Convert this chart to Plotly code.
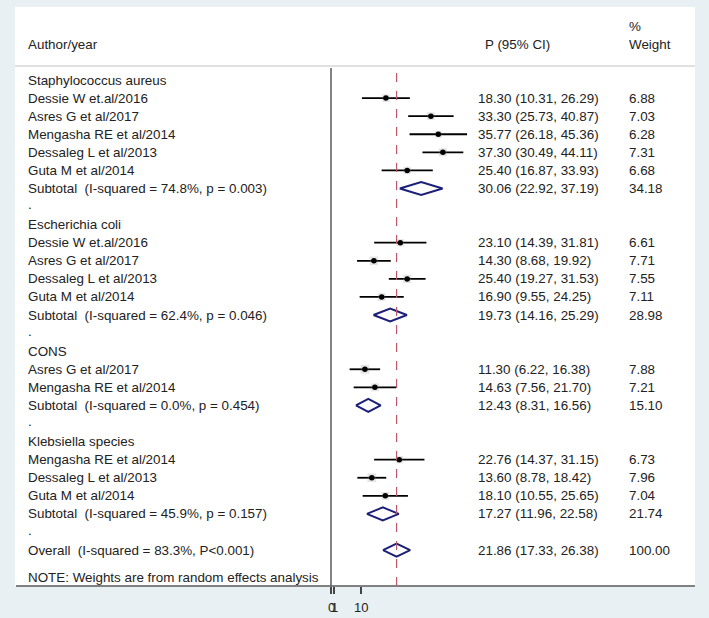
import plotly.graph_objects as go

# ---------------- data ----------------
groups = ["Staphylococcus aureus", "Escherichia coli", "CONS", "Klebsiella species"]

study_group = [0, 0, 0, 0, 0, 1, 1, 1, 1, 2, 2, 3, 3, 3]
study_labels = [
    "Dessie W et.al/2016", "Asres G et al/2017", "Mengasha RE et al/2014",
    "Dessaleg L et al/2013", "Guta M et al/2014",
    "Dessie W et.al/2016", "Asres G et al/2017", "Dessaleg L et al/2013", "Guta M et al/2014",
    "Asres G et al/2017", "Mengasha RE et al/2014",
    "Mengasha RE et al/2014", "Dessaleg L et al/2013", "Guta M et al/2014",
]
study_est = [18.30, 33.30, 35.77, 37.30, 25.40, 23.10, 14.30, 25.40, 16.90, 11.30, 14.63, 22.76, 13.60, 18.10]
study_lo = [10.31, 25.73, 26.18, 30.49, 16.87, 14.39, 8.68, 19.27, 9.55, 6.22, 7.56, 14.37, 8.78, 10.55]
study_hi = [26.29, 40.87, 45.36, 44.11, 33.93, 31.81, 19.92, 31.53, 24.25, 16.38, 21.70, 31.15, 18.42, 25.65]
study_wt = [6.88, 7.03, 6.28, 7.31, 6.68, 6.61, 7.71, 7.55, 7.11, 7.88, 7.21, 6.73, 7.96, 7.04]

sub_labels = [
    "Subtotal  (I-squared = 74.8%, p = 0.003)",
    "Subtotal  (I-squared = 62.4%, p = 0.046)",
    "Subtotal  (I-squared = 0.0%, p = 0.454)",
    "Subtotal  (I-squared = 45.9%, p = 0.157)",
]
sub_est = [30.06, 19.73, 12.43, 17.27]
sub_lo = [22.92, 14.16, 8.31, 11.96]
sub_hi = [37.19, 25.29, 16.56, 22.58]
sub_wt = [34.18, 28.98, 15.10, 21.74]

overall_label = "Overall  (I-squared = 83.3%, P<0.001)"
overall_est = 21.86
overall_lo = 17.33
overall_hi = 26.38
overall_wt = 100.00

note_text = "NOTE: Weights are from random effects analysis"
tick_vals = [0, 1, 10]
tick_text = ["0", "1", "10"]

# ---------------- layout constants (pixels) ----------------
W, H = 709, 618
ROW0_PX = 80.0
ROW_H = 18.08
AX_BOTTOM_PX = 586.0
ZERO_PX = 331.0
PX_PER_UNIT = 3.0
PANEL_L, PANEL_R, PANEL_T = 15, 695, 7
HEAD_LINE_PX = 66
LABEL_X = 26
EST_X = 476
WT_X = 627
FONT = "Liberation Sans, Arial, sans-serif"
TXT = "#222222"
NAVY = "#1b1f78"
FS = 13.4


def px2paper_y(p):
    return 1 - p / H


def px2paper_x(p):
    return p / W


rows = []
for g in range(len(groups)):
    rows.append(("group", g))
    for i, sg in enumerate(study_group):
        if sg == g:
            rows.append(("study", i))
    rows.append(("sub", g))
    rows.append(("blank", g))
rows.append(("overall", 0))

fig = go.Figure()
ann = []
shapes = []

# panel
shapes.append(dict(type="rect", xref="paper", yref="paper",
                   x0=px2paper_x(PANEL_L), x1=px2paper_x(PANEL_R),
                   y0=px2paper_y(AX_BOTTOM_PX), y1=px2paper_y(PANEL_T),
                   fillcolor="white", line=dict(width=0), layer="below"))
shapes.append(dict(type="line", xref="paper", yref="paper",
                   x0=px2paper_x(PANEL_L + 1), x1=px2paper_x(PANEL_R), y0=px2paper_y(AX_BOTTOM_PX),
                   y1=px2paper_y(AX_BOTTOM_PX), line=dict(color="#5a5a5a", width=1.5)))
shapes.append(dict(type="line", xref="paper", yref="paper",
                   x0=px2paper_x(PANEL_L), x1=px2paper_x(PANEL_R), y0=px2paper_y(HEAD_LINE_PX),
                   y1=px2paper_y(HEAD_LINE_PX), line=dict(color="#d6d6d6", width=1.5)))
shapes.append(dict(type="line", xref="x", yref="paper",
                   x0=0, x1=0, y0=px2paper_y(AX_BOTTOM_PX), y1=px2paper_y(HEAD_LINE_PX + 2),
                   line=dict(color="#5a5a5a", width=1.5)))
shapes.append(dict(type="line", xref="x", yref="paper",
                   x0=overall_est, x1=overall_est, y0=px2paper_y(AX_BOTTOM_PX), y1=px2paper_y(HEAD_LINE_PX + 5),
                   line=dict(color="#b85a6a", width=1.2, dash="dash")))


def label(y, text, x_px):
    ann.append(dict(x=px2paper_x(x_px), y=y, xref="paper", yref="y", text=text, showarrow=False,
                    xanchor="left", yanchor="middle", font=dict(family=FONT, size=FS, color=TXT)))


def fmt_ci(e, lo, hi):
    return f"{e:.2f} ({lo:.2f}, {hi:.2f})"


for txt, xp, yp in [("Author/year", LABEL_X, 44), ("P (95% CI)", 483, 44), ("%", WT_X, 26), ("Weight", WT_X, 44)]:
    ann.append(dict(x=px2paper_x(xp), y=px2paper_y(yp), xref="paper", yref="paper", text=txt, showarrow=False,
                    xanchor="left", yanchor="middle", font=dict(family=FONT, size=FS, color=TXT)))

# axis tick labels (placed with the x axis scale)
for tv, tt in zip(tick_vals, tick_text):
    ann.append(dict(x=tv, y=px2paper_y(607), xref="x", yref="paper", text=tt, showarrow=False,
                    xanchor="center", yanchor="middle", font=dict(family=FONT, size=13, color=TXT)))

ci_x, ci_y = [], []
pt_x, pt_y, box_size = [], [], []
for r, (kind, idx) in enumerate(rows):
    if kind == "group":
        label(r, groups[idx], LABEL_X)
    elif kind == "study":
        label(r, study_labels[idx], LABEL_X)
        label(r, fmt_ci(study_est[idx], study_lo[idx], study_hi[idx]), EST_X)
        label(r, f"{study_wt[idx]:.2f}", WT_X)
        ci_x += [study_lo[idx], study_hi[idx], None]
        ci_y += [r, r, None]
        pt_x.append(study_est[idx])
        pt_y.append(r)
        box_size.append(study_wt[idx] * 1.1)
    elif kind == "sub":
        label(r, sub_labels[idx], LABEL_X)
        label(r, fmt_ci(sub_est[idx], sub_lo[idx], sub_hi[idx]), EST_X)
        label(r, f"{sub_wt[idx]:.2f}", WT_X)
        fig.add_trace(go.Scatter(
            x=[sub_lo[idx], sub_est[idx], sub_hi[idx], sub_est[idx], sub_lo[idx]],
            y=[r, r - 0.36, r, r + 0.36, r], mode="lines", fill="toself", fillcolor="white",
            line=dict(color=NAVY, width=2), hoverinfo="skip", showlegend=False))
    elif kind == "blank":
        label(r - 0.1, ".", LABEL_X)
    elif kind == "overall":
        label(r, overall_label, LABEL_X)
        label(r, fmt_ci(overall_est, overall_lo, overall_hi), EST_X)
        label(r, f"{overall_wt:.2f}", WT_X)
        fig.add_trace(go.Scatter(
            x=[overall_lo, overall_est, overall_hi, overall_est, overall_lo],
            y=[r, r - 0.36, r, r + 0.36, r], mode="lines", fill="toself", fillcolor="white",
            line=dict(color=NAVY, width=2), hoverinfo="skip", showlegend=False))
        label(r + 1.5, note_text, LABEL_X)

fig.add_trace(go.Scatter(x=ci_x, y=ci_y, mode="lines", line=dict(color="black", width=1.8),
                         hoverinfo="skip", showlegend=False))
fig.add_trace(go.Scatter(x=pt_x, y=pt_y, mode="markers",
                         marker=dict(symbol="square", size=box_size, color="rgba(150,150,150,0.35)",
                                     line=dict(width=0)),
                         hoverinfo="skip", showlegend=False))
fig.add_trace(go.Scatter(x=pt_x, y=pt_y, mode="markers",
                         marker=dict(symbol="circle", size=5.5, color="black"),
                         hoverinfo="skip", showlegend=False))

y_top = -ROW0_PX / ROW_H
y_bot = (AX_BOTTOM_PX - ROW0_PX) / ROW_H

fig.update_layout(
    width=W, height=H, margin=dict(l=0, r=0, t=0, b=0),
    paper_bgcolor="#e8f0f3", plot_bgcolor="rgba(0,0,0,0)",
    annotations=ann, shapes=shapes, showlegend=False,
    xaxis=dict(range=[-ZERO_PX / PX_PER_UNIT, (W - ZERO_PX) / PX_PER_UNIT], domain=[0, 1],
               tickvals=tick_vals, ticks="outside", ticklen=7, tickwidth=1.5,
               showticklabels=False, tickcolor="#444444", showgrid=False, zeroline=False, showline=False,
               fixedrange=True),
    yaxis=dict(range=[y_bot, y_top], domain=[1 - AX_BOTTOM_PX / H, 1], visible=False, fixedrange=True),
)

fig.write_html(
    "out.html",
    config={"displayModeBar": False, "staticPlot": True},
    post_script="document.body.style.margin='0';document.body.style.padding='0';"
                "document.body.style.overflow='hidden';document.body.style.background='#e8f0f3';",
)
